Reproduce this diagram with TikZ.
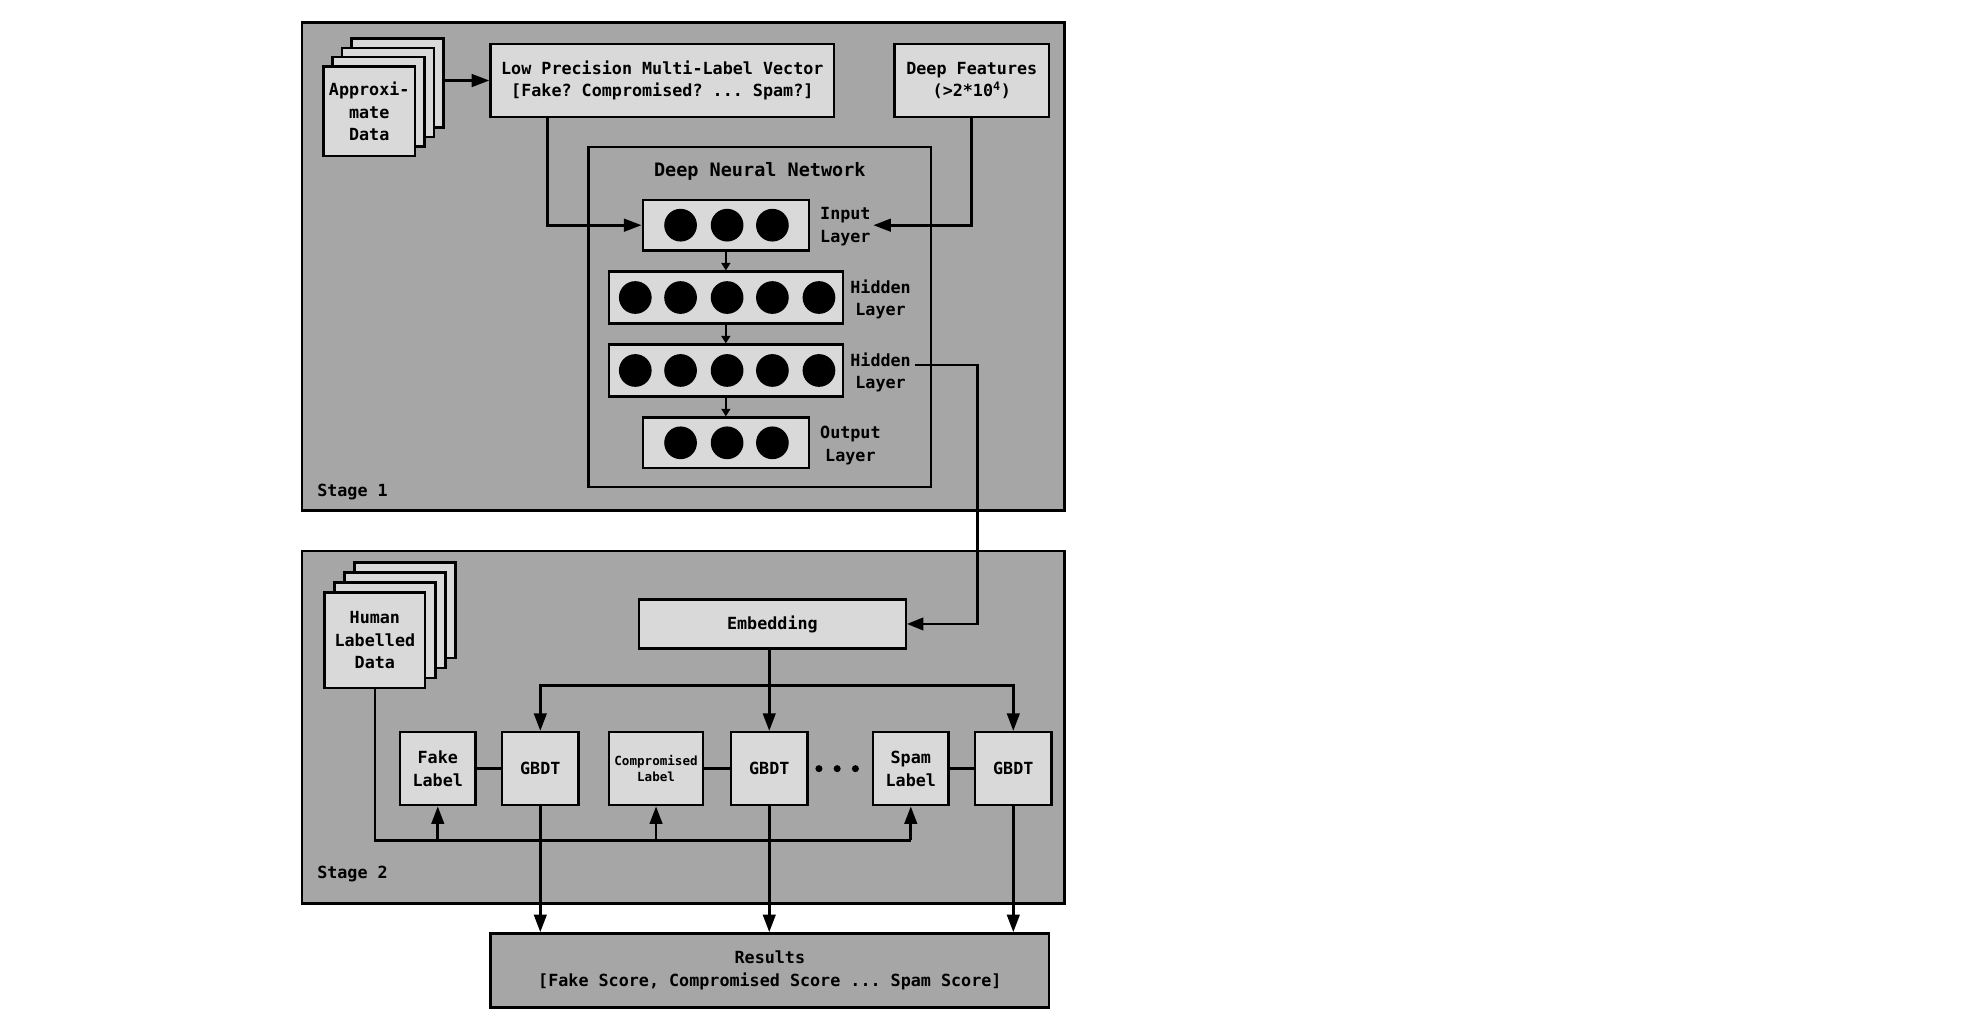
\documentclass[tikz,border=0pt]{standalone}
\usepackage{fontspec}
\setmainfont{DejaVu Sans Mono}
\usetikzlibrary{arrows.meta,calc}
\definecolor{stagegray}{HTML}{A6A6A6}
\definecolor{lightgray}{HTML}{D9D9D9}
\begin{document}
\frenchspacing
\begin{tikzpicture}[x=1pt,y=-1pt,
  font=\fontsize{13.3}{18}\selectfont\bfseries\frenchspacing,
  stagebox/.style={draw=black,line width=2pt,fill=stagegray,inner sep=0pt},
  lbox/.style={draw=black,line width=2pt,fill=lightgray,inner sep=0pt,align=center},
  plain/.style={inner sep=1pt,align=center},
  conn/.style={line width=2.1pt},
  arr/.style={line width=2.1pt,-{Triangle[length=14pt,width=10pt]}},
  thinarr/.style={line width=1.8pt,-{Triangle[length=13pt,width=10pt]}},
  smallarr/.style={line width=1.6pt,-{Triangle[length=6pt,width=7pt]}},
  neuron/.style={fill=black}
]
\useasboundingbox (0,0) rectangle (1566,819);
\fill[white] (0,0) rectangle (1566,819);

% stage boxes
\node[stagebox,minimum width=606pt,minimum height=388pt] (stage1) at (543,212) {};
\node[stagebox,minimum width=606pt,minimum height=280pt] (stage2) at (543,578) {};
\node[plain,anchor=west] (s1lab) at (251,391) {Stage 1};
\node[plain,anchor=west] (s2lab) at (251,695) {Stage 2};

% approximate data stack
\node[lbox,minimum width=73pt,minimum height=71pt] (ad3) at (316,66) {};
\node[lbox,minimum width=73pt,minimum height=71pt] (ad2) at (308.5,73.5) {};
\node[lbox,minimum width=73pt,minimum height=71pt] (ad1) at (301,81) {};
\node[lbox,minimum width=73pt,minimum height=71pt] (ad) at (293.5,88.5) {Approxi-\\mate\\Data};

\node[lbox,minimum width=273pt,minimum height=58pt] (lpv) at (526.5,64) {Low Precision Multi-Label Vector\\{}[Fake? Compromised? ... Spam?]};
\node[lbox,minimum width=123pt,minimum height=58pt] (df) at (772.5,64) {Deep Features\\(>2*10\textsuperscript{4})};

% DNN
\node[draw=black,line width=2pt,minimum width=272pt,minimum height=270pt,inner sep=0pt] (dnn) at (604,252) {};
\node[plain,font=\fontsize{14.7}{18}\selectfont\bfseries] (dnntitle) at (604,136) {Deep Neural Network};

\node[lbox,minimum width=132pt,minimum height=40pt] (inl) at (577,179) {};
\node[lbox,minimum width=186pt,minimum height=41pt] (h1) at (577,236.5) {};
\node[lbox,minimum width=186pt,minimum height=41pt] (h2) at (577,294.5) {};
\node[lbox,minimum width=132pt,minimum height=40pt] (outl) at (577,352) {};

\foreach \x in {541,578,614} {
  \fill[neuron] (\x,179) circle (13);
  \fill[neuron] (\x,352) circle (13);
}
\foreach \x in {505,541,578,614,651} {
  \fill[neuron] (\x,236.5) circle (13);
  \fill[neuron] (\x,294.5) circle (13);
}

\node[plain,inner sep=0pt] (inlab) at (672,180) {Input\\Layer};
\node[plain,inner sep=0pt] (h1lab) at (700,238) {Hidden\\Layer};
\node[plain,inner sep=0pt] (h2lab) at (700,296) {Hidden\\Layer};
\node[plain,inner sep=0pt] (outlab) at (676,354) {Output\\Layer};

\draw[smallarr] (inl.south) -- (h1.north);
\draw[smallarr] (h1.south) -- (h2.north);
\draw[smallarr] (h2.south) -- (outl.north);

\draw[arr] (ad3.east |- lpv.west) -- (lpv.west);
\draw[arr] ($(lpv.south west)+(46,0)$) |- (inl.west);
\draw[arr] (df.south) |- ($(inlab.east)+(2,-1)$);

% stage 2
\node[lbox,minimum width=80pt,minimum height=76pt] (hd3) at (322,485) {};
\node[lbox,minimum width=80pt,minimum height=76pt] (hd2) at (314,493) {};
\node[lbox,minimum width=80pt,minimum height=76pt] (hd1) at (306,501) {};
\node[lbox,minimum width=80pt,minimum height=76pt] (hd) at (298,509) {Human\\Labelled\\Data};

\node[lbox,minimum width=212pt,minimum height=39pt] (emb) at (614,496) {Embedding};

\node[lbox,minimum width=60pt,minimum height=58pt] (fake) at (348,611) {Fake\\Label};
\node[lbox,minimum width=61pt,minimum height=58pt] (g1) at (429.5,611) {GBDT};
\node[lbox,minimum width=75pt,minimum height=58pt,font=\fontsize{10}{13}\selectfont\bfseries] (comp) at (521.5,611) {Compromised\\Label};
\node[lbox,minimum width=61pt,minimum height=58pt] (g2) at (611.5,611) {GBDT};
\node[lbox,minimum width=60pt,minimum height=58pt] (spam) at (724,611) {Spam\\Label};
\node[lbox,minimum width=61pt,minimum height=58pt] (g3) at (805.5,611) {GBDT};
\foreach \x in {651,665.5,680} \fill (\x,611) circle (2.8);

\node[draw=black,line width=2pt,fill=stagegray,minimum width=444pt,minimum height=59pt,inner sep=0pt,align=center] (res) at (612,771.5) {Results\\{}[Fake Score, Compromised Score ... Spam Score]};

\coordinate (h2out) at (727,290);
\draw[thinarr] (h2out) -- (777,290) |- (emb.east);

\coordinate (bus) at (611.5,545);
\draw[arr] (emb.south -| g2.north) -- (g2.north);
\draw[arr] (bus) -| (g1.north);
\draw[arr] (bus) -| (g3.north);

\draw[conn] (fake.east) -- (g1.west);
\draw[conn] (comp.east) -- (g2.west);
\draw[conn] (spam.east) -- (g3.west);

\draw[conn] (hd.south) |- (spam.south |- 0,668);
\draw[arr] (fake.south |- 0,668) -- (fake.south);
\draw[arr] (comp.south |- 0,668) -- (comp.south);
\draw[arr] (spam.south |- 0,668) -- (spam.south);

\draw[arr] (g1.south) -- (g1.south |- res.north);
\draw[arr] (g2.south) -- (g2.south |- res.north);
\draw[arr] (g3.south) -- (g3.south |- res.north);
\end{tikzpicture}
\end{document}
